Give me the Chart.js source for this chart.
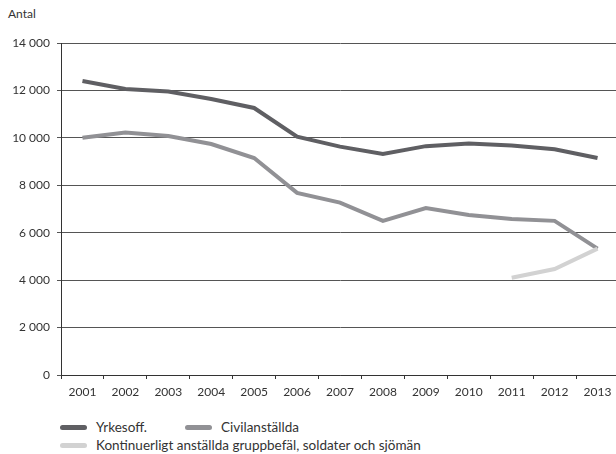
<!DOCTYPE html>
<html>
<head>
<meta charset="utf-8">
<script src="https://cdn.jsdelivr.net/npm/chart.js@4/dist/chart.umd.min.js"></script>
<style>
    html, body { margin: 0; padding: 0; background: #fff; }
    body { width: 616px; height: 454px; overflow: hidden; position: relative; font-family: Lato, "Open Sans", sans-serif; color: #333; }
    .wrap { position: absolute; left: 0; top: 0; width: 619px; height: 402px; }
    .unit { position: absolute; left: 8px; top: 6px; font-size: 12px; }
    .legend { position: absolute; left: 0; top: 0; font-size: 13.5px; }
    .legend-item { position: absolute; display: flex; align-items: center; white-space: nowrap; height: 18px; }
    .legend-item .swatch { width: 27px; height: 5px; border-radius: 3px; margin-right: 9px; }
</style>
</head>
<body>
<div class="unit">Antal</div>
<div class="wrap"><canvas id="chart"></canvas></div>
<div class="legend" id="legend"></div>
<script>
// Chart data
const years = ["2001", "2002", "2003", "2004", "2005", "2006", "2007", "2008", "2009", "2010", "2011", "2012", "2013"];
const yrkesoff = [12400, 12060, 11950, 11640, 11260, 10050, 9630, 9320, 9650, 9760, 9680, 9520, 9150];
const civil = [10000, 10230, 10080, 9740, 9150, 7680, 7270, 6500, 7040, 6750, 6580, 6500, 5330];
const kontinuerligt = [null, null, null, null, null, null, null, null, null, null, 4100, 4470, 5330];
const seriesNames = ["Yrkesoff.", "Civilanställda", "Kontinuerligt anställda gruppbefäl, soldater och sjömän"];
const yTicks = [0, 2000, 4000, 6000, 8000, 10000, 12000, 14000];

const colors = ["#5f5f63", "#919195", "#d2d2d2"];

// legend positions (left, top) for each item
const legendSpots = [[60, 418], [185, 418], [60, 436]];

function fmt(v) {
    return String(v).replace(/\B(?=(\d{3})+(?!\d))/g, " ");
}

const datasets = [kontinuerligt, civil, yrkesoff].map((data, i) => {
    const idx = 2 - i;
    return {
        label: seriesNames[idx],
        data: data,
        borderColor: colors[idx],
        backgroundColor: colors[idx],
        borderWidth: 4,
        pointRadius: 0,
        tension: 0,
        fill: false,
        spanGaps: false,
    };
});

const ctx = document.getElementById("chart").getContext("2d");

new Chart(ctx, {
    type: "line",
    data: { labels: years, datasets: datasets },
    options: {
        responsive: true,
        maintainAspectRatio: false,
        animation: false,
        layout: { padding: { top: 43, left: 0, right: 0, bottom: 0 } },
        plugins: {
            legend: { display: false },
            tooltip: { enabled: false },
        },
        scales: {
            x: {
                offset: true,
                grid: { offset: true, drawOnChartArea: false, drawTicks: true, tickLength: 4, color: "#333" },
                border: { display: true, color: "#333", width: 1 },
                ticks: { color: "#333", font: { family: "Lato", size: 12 }, padding: 6, maxRotation: 0, autoSkip: false },
                afterFit: (scale) => { scale.height = 27; },
            },
            y: {
                min: 0,
                max: 14000,
                afterBuildTicks: (scale) => { scale.ticks = yTicks.map(v => ({ value: v })); },
                grid: { color: "#555", lineWidth: 1, tickLength: 4 },
                border: { display: true, color: "#333", width: 1 },
                ticks: { color: "#333", font: { family: "Lato", size: 12 }, padding: 7, callback: (v) => fmt(v) },
                afterFit: (scale) => { scale.width = 61; },
            },
        },
    },
});

// HTML legend
const legend = document.getElementById("legend");
seriesNames.forEach((name, i) => {
    const item = document.createElement("div");
    item.className = "legend-item";
    item.style.left = legendSpots[i][0] + "px";
    item.style.top = legendSpots[i][1] + "px";
    item.innerHTML = `<span class="swatch" style="background:${colors[i]}"></span><span>${name}</span>`;
    legend.appendChild(item);
});
</script>
</body>
</html>
